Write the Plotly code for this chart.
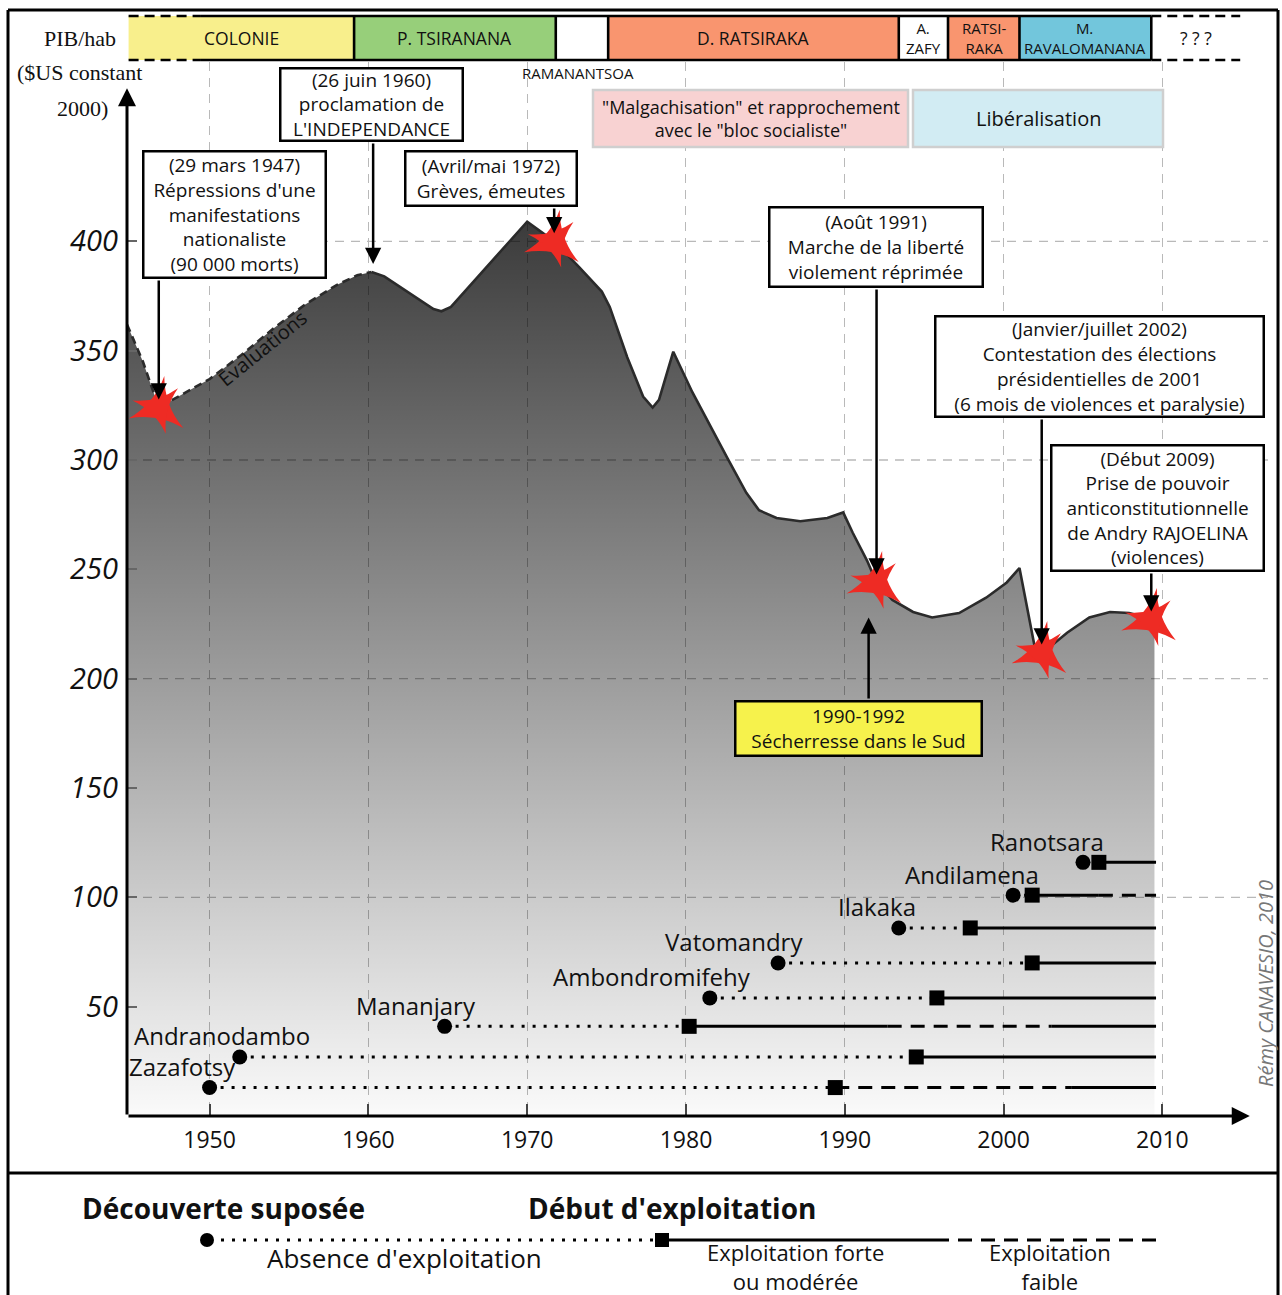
import numpy as np
import plotly.graph_objects as go

FONT = "Open Sans"
INK = "#111111"
LINE = "#2b2b2b"
GRID = "#b9b9b9"
RED = "#ee2b24"

# ---------------------------------------------------------------- data
# PIB/hab ($US constant 2000)
YEARS = [1944.8, 1945.8, 1946.8, 1948.0, 1950.0, 1952.0, 1954.0, 1956.0, 1958.0, 1959.3, 1960.2, 1961.0,
         1964.1, 1964.6, 1965.2, 1970.0, 1971.7, 1973.3, 1974.7, 1975.2, 1976.3, 1977.3, 1977.9, 1978.3,
         1979.2, 1980.4, 1982.6, 1983.8, 1984.6, 1985.7, 1987.2, 1988.9, 1989.9, 1990.5, 1991.4, 1992.0,
         1993.0, 1994.3, 1995.5, 1997.2, 1998.9, 2000.2, 2001.0, 2001.6, 2002.0, 2002.5, 2004.0, 2005.4,
         2006.7, 2007.9, 2009.0, 2009.5]
GDP = [362, 345, 324, 329, 337, 348, 360, 371, 380, 384.5, 386, 384,
       369, 368, 370, 409, 400, 388, 377, 370, 347, 329, 324, 327.5,
       349.5, 331, 301, 285, 277, 273.5, 272, 273.5, 276, 266.7, 254, 244,
       236, 230.5, 228, 230, 237, 244, 250.6, 227, 213, 212, 221, 228,
       230.5, 230, 228, 226]
ESTIMATED_UNTIL = 1960.2  # "Evaluations"

EVENT_YEARS = [1946.8, 1960.3, 1971.7, 1992.0, 2002.4, 2009.3]
EVENT_GDP = [324, 386, 400, 244, 212, 227]
EVENT_STAR = [True, False, True, True, True, True]
EVENT_TEXT = [
    "(29 mars 1947)<br>Répressions d'une<br>manifestations<br>nationaliste<br>(90 000 morts)",
    "(26 juin 1960)<br>proclamation de<br>L'INDEPENDANCE",
    "(Avril/mai 1972)<br>Grèves, émeutes",
    "(Août 1991)<br>Marche de la liberté<br>violement réprimée",
    "(Janvier/juillet 2002)<br>Contestation des élections<br>présidentielles de 2001<br>(6 mois de violences et paralysie)",
    "(Début 2009)<br>Prise de pouvoir<br>anticonstitutionnelle<br>de Andry RAJOELINA<br>(violences)",
]
DROUGHT_TEXT = "1990-1992<br>Sécherresse dans le Sud"
DROUGHT_YEAR = 1991.5
DROUGHT_GDP = 228

ERA_NAMES = ["COLONIE", "P. TSIRANANA", "", "D. RATSIRAKA", "A.<br>ZAFY", "RATSI-<br>RAKA",
             "M.<br>RAVALOMANANA", "? ? ?"]
ERA_START = [1944.9, 1959.1, 1971.8, 1975.1, 1993.4, 1996.5, 2001.0, 2009.3]
ERA_END = [1959.1, 1971.8, 1975.1, 1993.4, 1996.5, 2001.0, 2009.3, 2014.9]

MINES = ["Zazafotsy", "Andranodambo", "Mananjary", "Ambondromifehy", "Vatomandry", "Ilakaka",
         "Andilamena", "Ranotsara"]
DISCOVERY = [1950.0, 1951.9, 1964.8, 1981.5, 1985.8, 1993.4, 2000.6, 2005.0]
EXPLOIT_START = [1989.4, 1994.5, 1980.2, 1995.8, 2001.8, 1997.9, 2001.8, 2006.0]
WEAK_FROM = [1989.4, None, 1992.7, None, None, None, 2006.0, None]
WEAK_TO = [2004.3, None, 2003.0, None, None, None, 2009.6, None]
LAST_YEAR = 2009.6

Y_TICKS = [50, 100, 150, 200, 250, 300, 350, 400]
Y_GRID = [100, 200, 300, 400]

# ---------------------------------------------------------------- layout helpers
W, H = 1282, 1295
L, R, T, B = 127, 1268, 62, 1116
XMIN, XMAX, YMAX = 1944.8, 2016.65, 482

MINE_ROW = [13, 27, 41, 54, 70, 86, 101, 116]
LABEL_DX = [-27, -18, -29, -58, -44, -22, -41, -36]
ERA_COLORS = ["#f8ef8c", "#97cf7a", "white", "#f9956f", "white", "#f9956f", "#72c6dc", "white"]
BOXES = [(142, 150, 327, 279), (279, 67, 464, 142), (404, 150, 578, 207),
         (768, 206, 984, 288), (934, 315, 1265, 418), (1050, 444, 1265, 572)]
DROUGHT_BOX = (734, 700, 983, 757)


def fx(p):
    return (p - L) / (R - L)


def fy(p):
    return (B - p) / (B - T)


def yval(p):
    return (B - p) / (B - T) * YMAX


def label(x, y, text, size, xref="paper", yref="paper", **kw):
    font = dict(size=size, color=INK)
    font.update(kw.pop("font", {}))
    return dict(xref=xref, yref=yref, x=x, y=y, text=text, showarrow=False,
                xanchor="center", yanchor="middle", font=font, **kw)


fig = go.Figure()

# area
fig.add_trace(go.Scatter(
    x=YEARS, y=GDP, mode="lines", line=dict(width=0), fill="tozeroy",
    fillgradient=dict(type="vertical", start=0, stop=410,
                      colorscale=[[0, "rgba(0,0,0,0.02)"], [1, "rgba(0,0,0,0.77)"]]),
    hoverinfo="skip",
))
yrs = np.array(YEARS)
gdp = np.array(GDP)
cut = int(np.searchsorted(yrs, ESTIMATED_UNTIL))
fig.add_trace(go.Scatter(x=yrs[:cut + 1], y=gdp[:cut + 1], mode="lines",
                         line=dict(color=LINE, width=2.6, dash="8px,5px"), hoverinfo="skip"))
fig.add_trace(go.Scatter(x=yrs[cut:], y=gdp[cut:], mode="lines",
                         line=dict(color=LINE, width=2.6), hoverinfo="skip"))

# mines
for i, name in enumerate(MINES):
    row = MINE_ROW[i]
    d, s = DISCOVERY[i], EXPLOIT_START[i]
    fig.add_trace(go.Scatter(x=[d, s], y=[row, row], mode="lines",
                             line=dict(color="black", width=3, dash="3px,8px"), hoverinfo="skip"))
    parts = []
    if WEAK_FROM[i] is None:
        parts.append((s, LAST_YEAR, "solid"))
    else:
        if WEAK_FROM[i] > s:
            parts.append((s, WEAK_FROM[i], "solid"))
        parts.append((WEAK_FROM[i], WEAK_TO[i], "14px,9px"))
        if WEAK_TO[i] < LAST_YEAR:
            parts.append((WEAK_TO[i], LAST_YEAR, "solid"))
    for a, b, dash in parts:
        fig.add_trace(go.Scatter(x=[a, b], y=[row, row], mode="lines",
                                 line=dict(color="black", width=3, dash=dash), hoverinfo="skip"))
fig.add_trace(go.Scatter(x=DISCOVERY, y=MINE_ROW, mode="markers",
                         marker=dict(symbol="circle", size=15, color="black"), hoverinfo="skip"))
fig.add_trace(go.Scatter(x=EXPLOIT_START, y=MINE_ROW, mode="markers",
                         marker=dict(symbol="square", size=15, color="black"), hoverinfo="skip"))

# red stars
sx = [x for x, f in zip(EVENT_YEARS, EVENT_STAR) if f]
sy = [y for y, f in zip(EVENT_GDP, EVENT_STAR) if f]
fig.add_trace(go.Scatter(x=sx, y=sy, mode="markers",
                         marker=dict(symbol="star-triangle-up", size=40, angle=10, color=RED,
                                     line=dict(width=0)), hoverinfo="skip"))
fig.add_trace(go.Scatter(x=sx, y=sy, mode="markers",
                         marker=dict(symbol="star-triangle-down", size=34, angle=-15, color=RED,
                                     line=dict(width=0)), hoverinfo="skip"))

shapes = []
annotations = []

# horizontal grid
for v in Y_GRID:
    shapes.append(dict(type="line", xref="paper", yref="y", x0=0, x1=1, y0=v, y1=v, layer="below",
                       line=dict(color=GRID, width=1.3, dash="9px,7px")))

# era header
top, bot = fy(16), fy(60)
for name, a, b, col in zip(ERA_NAMES, ERA_START, ERA_END, ERA_COLORS):
    shapes.append(dict(type="rect", xref="x", yref="paper", x0=a, x1=b, y0=bot, y1=top,
                       fillcolor=col, line=dict(width=0)))
    two = "<br>" in name
    annotations.append(label((a + b) / 2, (top + bot) / 2, name, 15 if two else 17.5, xref="x"))
DASH_UNTIL = 1949.4
for yy in (top, bot):
    shapes.append(dict(type="line", xref="x", yref="paper", x0=DASH_UNTIL, x1=ERA_END[-2], y0=yy, y1=yy,
                       line=dict(color="black", width=2.6)))
    shapes.append(dict(type="line", xref="x", yref="paper", x0=ERA_START[0], x1=DASH_UNTIL, y0=yy, y1=yy,
                       line=dict(color="black", width=2.6, dash="10px,6px")))
    shapes.append(dict(type="line", xref="x", yref="paper", x0=ERA_START[-1], x1=ERA_END[-1], y0=yy, y1=yy,
                       line=dict(color="black", width=2.6, dash="10px,6px")))
for xx in ERA_START[1:]:
    shapes.append(dict(type="line", xref="x", yref="paper", x0=xx, x1=xx, y0=bot, y1=top,
                       line=dict(color="black", width=2.6)))

annotations.append(label(fx(578), fy(73), "RAMANANTSOA", 15))

# policy boxes
for (x0, y0, x1, y1), col, txt, size in [
    ((593, 90, 908, 147), "#f8d2d2", '"Malgachisation" et rapprochement<br>avec le "bloc socialiste"', 18),
    ((913, 90, 1163, 147), "#d2ecf3", "Libéralisation", 20),
]:
    shapes.append(dict(type="rect", xref="paper", yref="paper", x0=fx(x0), x1=fx(x1), y0=fy(y1), y1=fy(y0),
                       fillcolor=col, line=dict(color="#cfcfcf", width=2.5)))
    annotations.append(label(fx((x0 + x1) / 2), fy((y0 + y1) / 2), txt, size))

# event boxes + arrows
for (x0, y0, x1, y1), txt, ex, ey in zip(BOXES, EVENT_TEXT, EVENT_YEARS, EVENT_GDP):
    annotations.append(label(fx((x0 + x1) / 2), fy((y0 + y1) / 2), txt, 19,
                             width=x1 - x0 - 5, height=y1 - y0 - 5, bgcolor="white",
                             bordercolor="black", borderwidth=2.5, borderpad=0))
    annotations.append(dict(x=ex, y=ey, xref="x", yref="y", ax=ex, ay=yval(y1), axref="x", ayref="y",
                            text="", showarrow=True, arrowhead=2, arrowsize=1.3, arrowwidth=2.5,
                            arrowcolor="black", standoff=8))
x0, y0, x1, y1 = DROUGHT_BOX
annotations.append(label(fx((x0 + x1) / 2), fy((y0 + y1) / 2), DROUGHT_TEXT, 19,
                         width=x1 - x0 - 5, height=y1 - y0 - 5, bgcolor="#f6f24c",
                         bordercolor="black", borderwidth=2.5, borderpad=0))
annotations.append(dict(x=DROUGHT_YEAR, y=DROUGHT_GDP, xref="x", yref="y", ax=DROUGHT_YEAR, ay=yval(y0),
                        axref="x", ayref="y", text="", showarrow=True, arrowhead=2, arrowsize=1.3,
                        arrowwidth=2.5, arrowcolor="black", standoff=0))

# axes arrows
annotations.append(dict(x=XMIN, y=470, xref="x", yref="y", ax=XMIN, ay=0, axref="x", ayref="y", text="",
                        showarrow=True, arrowhead=2, arrowsize=1.2, arrowwidth=3, arrowcolor="black"))
annotations.append(dict(x=2015.5, y=0, xref="x", yref="y", ax=XMIN, ay=0, axref="x", ayref="y", text="",
                        showarrow=True, arrowhead=2, arrowsize=1.2, arrowwidth=3, arrowcolor="black"))

# mine labels
for name, d, row, dx in zip(MINES, DISCOVERY, MINE_ROW, LABEL_DX):
    annotations.append(label(d, row, name, 24, xref="x", yref="y", xshift=dx, yshift=21))

# axis title + misc text
for txt, cx, cy in [("PIB/hab", 80, 38), ("($US constant", 79, 73), ("2000)", 82, 108)]:
    annotations.append(label(fx(cx), fy(cy), txt, 22, font=dict(family="Liberation Serif")))
annotations.append(label(fx(262), fy(348), "Evaluations", 20, textangle=-39))
annotations.append(label(fx(1265), fy(984), "Rémy CANAVESIO, 2010", 20, textangle=-90,
                         font=dict(color="#777777", style="italic")))

# frame
for a, b, c, d in [(8, 10, 1278, 10), (8, 10, 8, 1300), (1278, 10, 1278, 1300), (8, 1173, 1278, 1173)]:
    shapes.append(dict(type="line", xref="paper", yref="paper", x0=fx(a), x1=fx(c), y0=fy(b), y1=fy(d),
                       line=dict(color="black", width=3)))

# legend
LY = 1240
shapes.append(dict(type="line", xref="paper", yref="paper", x0=fx(210), x1=fx(658), y0=fy(LY), y1=fy(LY),
                   line=dict(color="black", width=3, dash="3px,8px")))
shapes.append(dict(type="line", xref="paper", yref="paper", x0=fx(662), x1=fx(935), y0=fy(LY), y1=fy(LY),
                   line=dict(color="black", width=3)))
shapes.append(dict(type="line", xref="paper", yref="paper", x0=fx(935), x1=fx(1162), y0=fy(LY), y1=fy(LY),
                   line=dict(color="black", width=3, dash="14px,9px")))
shapes.append(dict(type="circle", xref="paper", yref="paper", x0=fx(200), x1=fx(214), y0=fy(LY + 7),
                   y1=fy(LY - 7), fillcolor="black", line=dict(width=0)))
shapes.append(dict(type="rect", xref="paper", yref="paper", x0=fx(655), x1=fx(669), y0=fy(LY + 7),
                   y1=fy(LY - 7), fillcolor="black", line=dict(width=0)))
for txt, cx, cy, size, bold in [("Découverte suposée", 223, 1208, 28, True),
                                ("Début d'exploitation", 672, 1208, 28, True),
                                ("Absence d'exploitation", 404, 1258, 26, False),
                                ("Exploitation forte<br>ou modérée", 795, 1266, 22, False),
                                ("Exploitation<br>faible", 1050, 1266, 22, False)]:
    annotations.append(label(fx(cx), fy(cy), txt, size,
                             font=dict(weight="bold" if bold else "normal")))

fig.update_layout(
    width=W, height=H, autosize=False,
    margin=dict(l=L, r=W - R, t=T, b=H - B, pad=0),
    paper_bgcolor="white", plot_bgcolor="white",
    showlegend=False,
    font=dict(family=FONT, color=INK),
    xaxis=dict(range=[XMIN, XMAX], tickmode="linear", tick0=1950, dtick=10,
               showgrid=True, gridcolor=GRID, griddash="9px,7px", gridwidth=1.3,
               zeroline=False, showline=False, ticks="inside", ticklen=12, tickwidth=2, tickcolor="#444",
               tickfont=dict(size=23, color=INK), ticklabelstandoff=8),
    yaxis=dict(range=[0, YMAX], tickvals=Y_TICKS, showgrid=False, zeroline=False, showline=False,
               ticks="inside", ticklen=10, tickwidth=2, tickcolor="#666",
               tickfont=dict(size=29, color=INK, style="italic"), ticklabelstandoff=8),
    shapes=shapes,
    annotations=annotations,
)

fig.write_html("out.html", config={"displayModeBar": False},
               post_script="document.body.style.margin='0';")
